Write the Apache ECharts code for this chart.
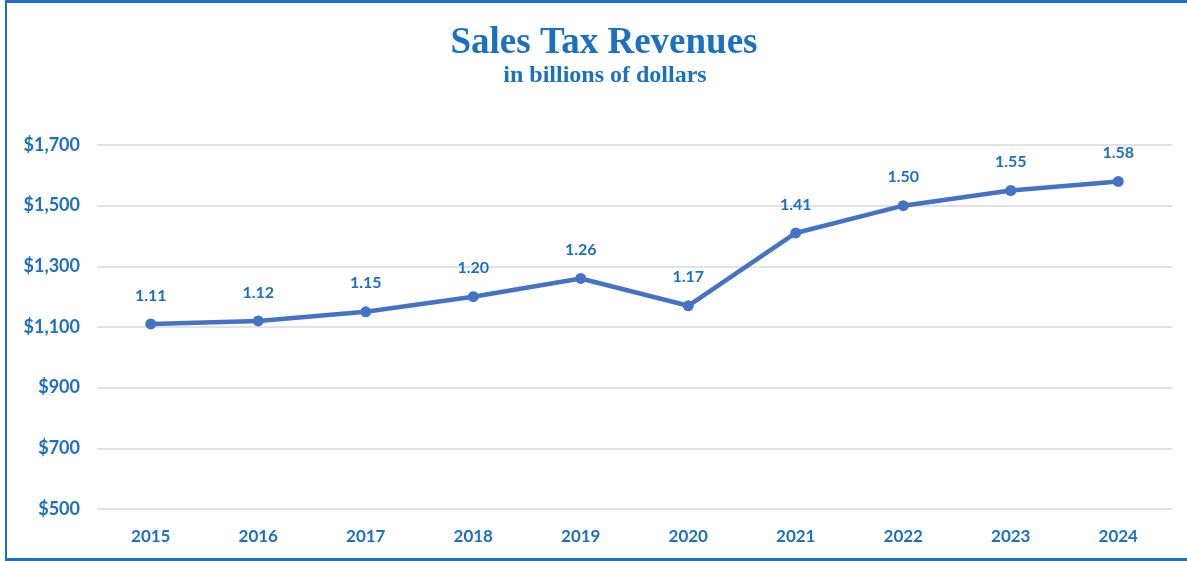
<!DOCTYPE html>
<html>
<head>
<meta charset="utf-8">
<script src="https://cdn.jsdelivr.net/npm/echarts@6/dist/echarts.min.js"></script>
<style>
  html, body { margin: 0; padding: 0; background: #ffffff; }
  #frame {
    position: absolute; left: 5px; top: 0; width: 1182px; height: 561px;
    box-sizing: border-box;
    border-top: 3px solid #1f6fc0; border-left: 2px solid #1f6fc0; border-bottom: 3px solid #1f6fc0;
  }
  #chart { position: absolute; left: 0; top: 0; width: 1187px; height: 561px; }
</style>
</head>
<body>
<div id="frame"></div>
<div id="chart"></div>
<script>
// Fiscal years shown on the horizontal axis
const years = ['2015', '2016', '2017', '2018', '2019', '2020', '2021', '2022', '2023', '2024'];
// Sales tax revenue, millions of dollars
const revenue = [1110, 1120, 1150, 1200, 1260, 1170, 1410, 1500, 1550, 1580];
// Value axis range and step (millions)
const yMin = 500;
const yMax = 1700;
const yStep = 200;

const blueText = '#1c70c0';
const lineBlue = '#4472c4';

const chart = echarts.init(document.getElementById('chart'), null, { renderer: 'canvas' });

chart.setOption({
  animation: false,
  backgroundColor: 'transparent',
  title: [
    {
      text: 'Sales Tax Revenues',
      left: 599, top: 20, textAlign: 'center',
      textStyle: { fontFamily: 'Liberation Serif', fontWeight: 'bold', fontSize: 37, color: blueText }
    },
    {
      text: 'in billions of dollars',
      left: 600, top: 59, textAlign: 'center',
      textStyle: { fontFamily: 'Liberation Serif', fontWeight: 'bold', fontSize: 24, color: blueText }
    }
  ],
  grid: { left: 97, right: 15, top: 145, bottom: 52, containLabel: false },
  xAxis: {
    type: 'category',
    data: years,
    boundaryGap: true,
    axisLine: { show: false },
    axisTick: { show: false },
    axisLabel: {
      margin: 19,
      fontFamily: 'Lato', fontWeight: 'bold', fontSize: 17, color: blueText
    }
  },
  yAxis: {
    type: 'value',
    min: yMin, max: yMax, interval: yStep,
    axisLine: { show: false },
    axisTick: { show: false },
    splitLine: { lineStyle: { color: '#d9d9d9', width: 1.5 } },
    axisLabel: {
      margin: 17,
      fontFamily: 'Lato', fontWeight: 'bold', fontSize: 18, color: blueText,
      formatter: v => '$' + v.toLocaleString('en-US')
    }
  },
  series: [{
    type: 'line',
    data: revenue,
    symbol: 'circle',
    symbolSize: 11,
    lineStyle: { color: lineBlue, width: 4.5 },
    itemStyle: { color: lineBlue },
    label: {
      show: true,
      position: 'top',
      distance: 15,
      fontFamily: 'Lato', fontWeight: 'bold', fontSize: 16, color: blueText,
      formatter: p => (p.value / 1000).toFixed(2)
    }
  }]
});
</script>
</body>
</html>
